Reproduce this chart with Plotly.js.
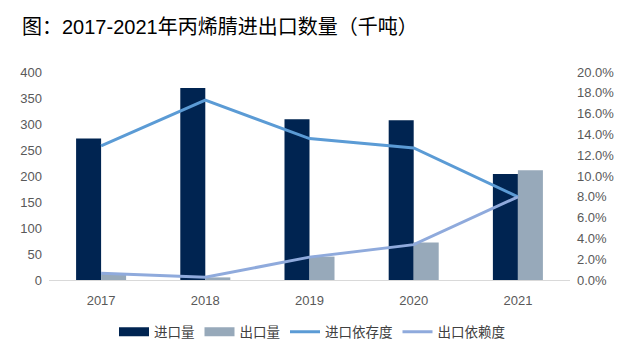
<!DOCTYPE html>
<html>
<head>
<meta charset="utf-8">
<script src="https://cdn.plot.ly/plotly-3.0.1.min.js"></script>
<style>html,body{margin:0;padding:0;background:#fff;}#chart{width:641px;height:351px;}</style>
</head>
<body>
<div id="chart"></div>
<script>
const years = ['2017', '2018', '2019', '2020', '2021'];
const importQty = [272, 369, 309, 307, 204];
const exportQty = [12, 5, 45, 72, 211];
const importDep = [0.129, 0.173, 0.136, 0.127, 0.080];
const exportDep = [0.0065, 0.0026, 0.022, 0.034, 0.080];
const names = ['进口量', '出口量', '进口依存度', '出口依赖度'];
const colors = ['#002451', '#97A9BA', '#5B9BD5', '#8FAADC'];

const traces = [
  {type: 'bar', x: years, y: importQty, name: names[0], marker: {color: colors[0]}, showlegend: false, hoverinfo: 'y'},
  {type: 'bar', x: years, y: exportQty, name: names[1], marker: {color: colors[1]}, showlegend: false, hoverinfo: 'y'},
  {type: 'scatter', mode: 'lines', x: years, y: importDep, yaxis: 'y2', name: names[2], line: {color: colors[2], width: 3}, showlegend: false},
  {type: 'scatter', mode: 'lines', x: years, y: exportDep, yaxis: 'y2', name: names[3], line: {color: colors[3], width: 3}, showlegend: false},
  // legend entries
  {type: 'scatter', mode: 'lines', x: [null], y: [null], name: names[0], line: {color: colors[0], width: 9}},
  {type: 'scatter', mode: 'lines', x: [null], y: [null], name: names[1], line: {color: colors[1], width: 9}},
  {type: 'scatter', mode: 'lines', x: [null], y: [null], name: names[2], line: {color: colors[2], width: 3}},
  {type: 'scatter', mode: 'lines', x: [null], y: [null], name: names[3], line: {color: colors[3], width: 3}}
];

const tickFont = {family: 'Liberation Sans, Arial, sans-serif', size: 13, color: '#595959'};

const layout = {
  width: 641, height: 351,
  margin: {l: 49, r: 71, t: 72, b: 71},
  paper_bgcolor: '#ffffff', plot_bgcolor: '#ffffff',
  title: {
    text: '图：2017-2021年丙烯腈进出口数量（千吨）',
    font: {family: 'Liberation Sans, Noto Sans CJK SC, sans-serif', size: 20, color: '#000000'},
    xref: 'container', x: 22 / 641, xanchor: 'left',
    yref: 'container', y: 1 - 27 / 351, yanchor: 'middle'
  },
  barmode: 'group', bargap: 0.52, bargroupgap: 0,
  xaxis: {
    type: 'category', showgrid: false, zeroline: false,
    showline: true, linecolor: '#d9d9d9', linewidth: 1,
    ticks: '', tickfont: tickFont, ticklabelstandoff: 8
  },
  yaxis: {
    range: [0, 400], dtick: 50, showgrid: false, zeroline: false, showline: false,
    ticks: '', tickfont: tickFont, ticklabelstandoff: 6
  },
  yaxis2: {
    overlaying: 'y', side: 'right', range: [0, 0.2], dtick: 0.02, tickformat: '.1%',
    showgrid: false, zeroline: false, showline: false,
    ticks: '', tickfont: tickFont, ticklabelstandoff: 6
  },
  legend: {
    orientation: 'h', xref: 'container', x: 312 / 641, xanchor: 'center',
    yref: 'container', y: 1 - 332 / 351, yanchor: 'middle',
    font: {family: 'Noto Sans CJK SC, sans-serif', size: 13.5, color: '#404040'},
    itemwidth: 30, traceorder: 'normal'
  },
  showlegend: true
};

Plotly.newPlot('chart', traces, layout, {displayModeBar: false, staticPlot: true});
</script>
</body>
</html>
